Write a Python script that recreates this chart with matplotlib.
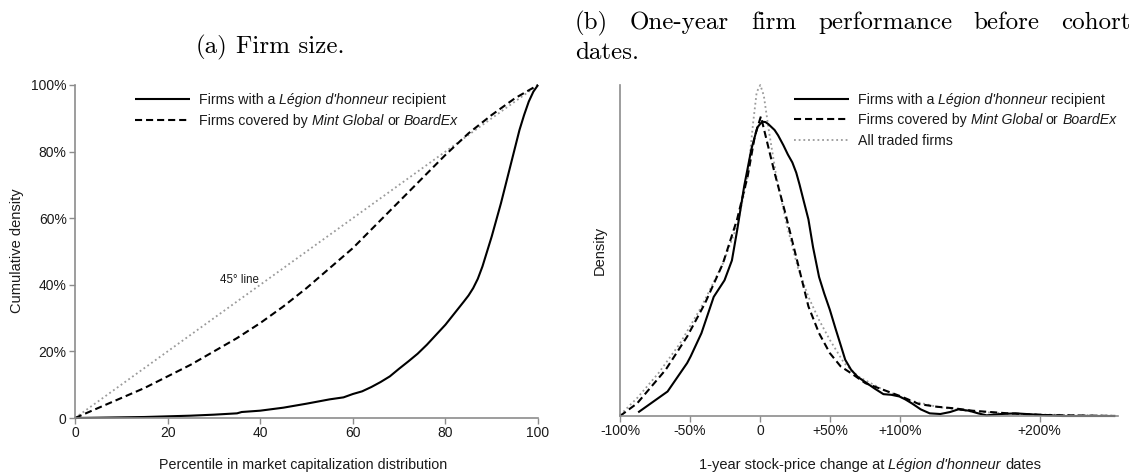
import matplotlib
matplotlib.use('Agg')
import matplotlib.pyplot as plt
from matplotlib.lines import Line2D
from matplotlib.transforms import IdentityTransform

W, H = 1139, 476
SANS = 'Liberation Sans'
SERIF = 'cmr10'
TXT = '#1a1a1a'
AXC = '#8c8c8c'

# ---- panel (a): cumulative density by size percentile ----
pct = [0, 5, 10, 15, 20, 25, 30, 35, 36, 40, 45, 50, 55, 58, 60, 62, 64, 66, 68, 70,
       72, 74, 76, 78, 80, 82, 84, 85, 86, 87, 88, 89, 90, 91, 92, 93, 94, 95, 96, 97,
       98, 99, 100]
legion_cdf = [0, 0.1, 0.2, 0.3, 0.5, 0.7, 1.0, 1.4, 1.8, 2.2, 3.1, 4.3, 5.6, 6.2, 7.2,
              8.0, 9.3, 10.8, 12.5, 14.8, 17.0, 19.3, 22.0, 25.0, 28.0, 31.5, 35.0,
              36.8, 39.0, 41.8, 45.5, 50.0, 54.5, 59.5, 64.5, 70.0, 75.5, 81.0, 86.5,
              91.0, 95.0, 98.0, 100]
pct_b = [0, 5, 10, 15, 20, 25, 30, 35, 40, 45, 50, 55, 60, 65, 70, 75, 80, 85, 90, 95, 100]
mint_cdf = [0, 3, 6, 9, 12.5, 16, 20, 24, 28.5, 33.5, 39, 45, 51, 58, 65, 72, 79,
            85.5, 91, 96, 100]
diag = [0, 100]

# ---- panel (b): density of 1-year stock-price change (%) ----
x_legion = [-87, -66, -52, -49.5, -41.8, -33, -25.3, -20, -16.3, -11.2, -6.1, -1.8, 0.5,
            2, 4, 6, 8, 10.5, 13, 16.8, 20, 23.2, 26, 28.3, 31, 34.7, 38, 42.3, 46, 50,
            54, 57.7, 61, 65.3, 70, 75.5, 82, 88.3, 94, 99.7, 104, 108.7, 115, 121.4,
            129, 136, 141.8, 149.5, 156, 162, 172.4, 182.7, 198, 216, 254]
d_legion = [0.011, 0.074, 0.16, 0.18, 0.25, 0.36, 0.41, 0.47, 0.56, 0.695, 0.806, 0.872,
            0.884, 0.889, 0.888, 0.882, 0.874, 0.864, 0.848, 0.818, 0.79, 0.766, 0.735,
            0.7, 0.655, 0.594, 0.51, 0.42, 0.37, 0.321, 0.265, 0.215, 0.17, 0.139, 0.118,
            0.102, 0.083, 0.066, 0.064, 0.059, 0.05, 0.038, 0.02, 0.008, 0.006, 0.012,
            0.02, 0.016, 0.008, 0.002, 0.006, 0.008, 0.004, 0.0, 0.0]
x_mint = [-100, -87.8, -67.3, -52, -39.3, -26.5, -16.3, -8.7, -3.6, 0.7, 4.1, 10.5, 18.1,
          27, 34.7, 42.3, 50, 57.7, 65.3, 75.5, 88.3, 101, 113.8, 126.5, 139.3, 152,
          177.5, 203, 254]
d_mint = [0.0, 0.038, 0.14, 0.24, 0.34, 0.46, 0.594, 0.725, 0.846, 0.905, 0.846, 0.735,
          0.614, 0.463, 0.331, 0.25, 0.19, 0.15, 0.129, 0.099, 0.079, 0.059, 0.036,
          0.028, 0.023, 0.016, 0.008, 0.003, 0.0]
x_all = [-100, -87.8, -72.4, -57, -41.8, -26.5, -16.3, -8.7, -4.8, -2.3, 0.3, 2.8, 6.6,
         11.7, 19.4, 27, 34.7, 42.3, 50, 60.2, 70.4, 88.3, 106, 126.5, 152, 190, 254]
d_all = [0.003, 0.054, 0.13, 0.22, 0.33, 0.46, 0.574, 0.725, 0.887, 0.978, 1.0, 0.968,
         0.857, 0.725, 0.574, 0.45, 0.36, 0.29, 0.23, 0.16, 0.119, 0.079, 0.048, 0.028,
         0.013, 0.005, 0.001]

a_xticks = [0, 20, 40, 60, 80, 100]
a_yticks = [0, 20, 40, 60, 80, 100]
a_ylabels = ['0', '20%', '40%', '60%', '80%', '100%']
b_xticks = [-100, -50, 0, 50, 100, 200]
b_xlabels = ['-100%', '-50%', '0', '+50%', '+100%', '+200%']

LEG1 = [('Firms with a', 'normal'), ("Légion d'honneur", 'italic'), ('recipient', 'normal')]
LEG2 = [('Firms covered by', 'normal'), ('Mint Global', 'italic'), ('or', 'normal'),
        ('BoardEx', 'italic')]
LEG3 = [('All traded firms', 'normal')]

fig = plt.figure(figsize=(W / 100, H / 100), dpi=100)
renderer = fig.canvas.get_renderer()
ID = IdentityTransform()


def width_of(s, **kw):
    t = fig.text(0, 0, s, **kw)
    w = t.get_window_extent(renderer).width
    t.remove()
    return w


def rich(x, y, pieces, size, family=SANS, ha='left', right=None, color=TXT):
    # y is the baseline row in image pixels (from the top)
    kw = dict(fontsize=size, family=family)
    gap = width_of('x x', **kw) - width_of('xx', **kw)
    ws = [width_of(s, fontstyle=st, **kw) for s, st in pieces]
    total = sum(ws) + gap * (len(ws) - 1)
    if right is not None:
        gap = (right - x - sum(ws)) / (len(ws) - 1)
    elif ha == 'center':
        x -= total / 2
    for (s, st), w in zip(pieces, ws):
        fig.text(x, H - y, s, transform=ID, fontstyle=st, color=color,
                 va='baseline', **kw)
        x += w + gap


def legend_row(x0, y, pieces, **style):
    fig.add_artist(Line2D([x0, x0 + 55], [H - y, H - y], transform=ID, **style))
    rich(x0 + 64, y + 5, pieces, 10.2)


def style_axes(ax):
    for s in ['top', 'right']:
        ax.spines[s].set_visible(False)
    for s in ['left', 'bottom']:
        ax.spines[s].set_color(AXC)
        ax.spines[s].set_linewidth(1.2)
    ax.tick_params(color=AXC, length=4, width=1, labelsize=10, labelcolor=TXT, pad=2)
    for lab in ax.get_xticklabels() + ax.get_yticklabels():
        lab.set_family(SANS)


solid = dict(color='black', lw=1.5, solid_capstyle='butt', solid_joinstyle='round')
dashed = dict(color='black', lw=1.5, linestyle=(0, (3.4, 1.9)))
dotted = dict(color='#9a9a9a', lw=1.3, linestyle=(0, (1.0, 1.6)))

# ---- panel (a) ----
ax1 = fig.add_axes([75 / W, 58 / H, 463 / W, 333 / H])
ax1.plot(diag, diag, clip_on=False, **dotted)
ax1.plot(pct_b, mint_cdf, clip_on=False, **dashed)
ax1.plot(pct, legion_cdf, clip_on=False, **solid)
ax1.set_xlim(0, 100)
ax1.set_ylim(0, 100)
ax1.set_xticks(a_xticks)
ax1.set_yticks(a_yticks)
ax1.set_yticklabels(a_ylabels)
style_axes(ax1)
ax1.text(31.3, 40.5, '45° line', fontsize=8.3, family=SANS, color=TXT)

legend_row(135, 99, LEG1, **solid)
legend_row(135, 120, LEG2, **dashed)

fig.text(17, H - 251, 'Cumulative density', transform=ID, rotation=90, ha='center',
         va='center', fontsize=10.5, family=SANS, color=TXT)
rich(303, 469, [('Percentile in market capitalization distribution', 'normal')], 10.3,
     ha='center')

# ---- panel (b) ----
ax2 = fig.add_axes([620 / W, 60 / H, 498 / W, 331 / H])
ax2.plot(x_all, d_all, clip_on=False, **dotted)
ax2.plot(x_mint, d_mint, clip_on=False, **dashed)
ax2.plot(x_legion, d_legion, clip_on=False, **solid)
ax2.set_xlim(-100, 256)
ax2.set_ylim(0, 1.0)
ax2.set_xticks(b_xticks)
ax2.set_xticklabels(b_xlabels)
ax2.set_yticks([])
style_axes(ax2)

legend_row(794, 99, LEG1, **solid)
legend_row(794, 119, LEG2, **dashed)
legend_row(794, 140, LEG3, **dotted)

fig.text(600, H - 250, 'Density', transform=ID, rotation=90, ha='center',
         va='center', fontsize=10.5, family=SANS, color=TXT)
rich(870, 469, [('1-year stock-price change at', 'normal'), ("Légion d'honneur", 'italic'),
                ('dates', 'normal')], 10.5, ha='center')

# ---- sub-captions ----
rich(270, 53, [('(a)', 'normal'), ('Firm size.', 'normal')], 18, family=SERIF,
     ha='center', color='black')
rich(575, 29, [('(b)', 'normal'), ('One-year', 'normal'), ('firm', 'normal'),
               ('performance', 'normal'), ('before', 'normal'), ('cohort', 'normal')],
     18, family=SERIF, right=1131, color='black')
rich(575, 59, [('dates.', 'normal')], 18, family=SERIF, color='black')

fig.savefig('out.png', dpi=100)
